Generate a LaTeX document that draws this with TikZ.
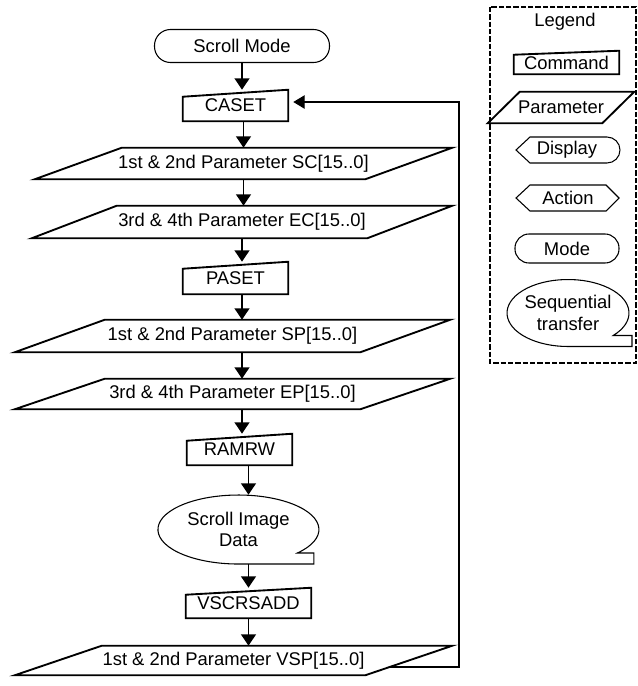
\documentclass[tikz,border=0pt]{standalone}
\usepackage{fontspec}
\setmainfont{Liberation Sans}
\usetikzlibrary{arrows.meta,calc,shapes.geometric}

\begin{document}
\begin{tikzpicture}[x=0.75pt, y=0.75pt,
    every node/.style={font=\fontsize{13.8pt}{16pt}\selectfont, inner sep=0pt},
    thinline/.style={line width=0.8pt},
    shapeline/.style={line width=1.4pt},
    modebox/.style={draw, thinline, rounded corners=12pt},
    arr/.style={line width=1.4pt, -{Triangle[width=11pt,length=8.5pt]}},
    fb/.style={line width=0.9pt, -{Triangle[width=10pt,length=8.5pt]}, shorten >=3.75pt}]
    \useasboundingbox (0,0) rectangle (637,-686);

    % Flow
    \node[modebox, minimum width=131.25pt, minimum height=24.75pt] (mode) at (242,-46) {Scroll Mode};
    \node[minimum width=78.75pt, minimum height=23.25pt] (caset) at (235.5,-105.5) {CASET};
    \node[minimum width=312.75pt, minimum height=23.25pt] (sc) at (243.5,-163.5) {1st \& 2nd Parameter SC[15..0]};
    \node[minimum width=315pt, minimum height=24pt] (ec) at (242,-222) {3rd \& 4th Parameter EC[15..0]};
    \node[minimum width=78.75pt, minimum height=24pt] (paset) at (235.5,-278) {PASET};
    \node[minimum width=326.25pt, minimum height=24pt] (sp) at (232.5,-336) {1st \& 2nd Parameter SP[15..0]};
    \node[minimum width=326.25pt, minimum height=22.5pt] (ep) at (232.5,-394) {3rd \& 4th Parameter EP[15..0]};
    \node[minimum width=78.75pt, minimum height=23.25pt] (ramrw) at (239.5,-449.5) {RAMRW};
    \node[ellipse, minimum width=120.75pt, minimum height=51.75pt, align=center] (sid) at (238.5,-529.5) {Scroll Image\\Data};
    \node[minimum width=93.75pt, minimum height=22.5pt] (vscr) at (248.5,-603) {VSCRSADD};
    \node[minimum width=327.75pt, minimum height=21.75pt] (vsp) at (233.5,-660.5) {1st \& 2nd Parameter VSP[15..0]};

    % Legend
    \draw[line width=1.1pt, dash pattern=on 4pt off 1.5pt] (490,-7) rectangle (636,-363);
    \node (legend) at (565,-22) {Legend};
    \node[minimum width=78.75pt, minimum height=17.25pt] (lcmd) at (566.5,-62.5) {Command};
    \node[minimum width=109.5pt, minimum height=23.25pt] (lpar) at (561,-107.5) {Parameter};
    \node (ldisp) at (567,-150) {Display};
    \node (lact) at (568,-198) {Action};
    \node[modebox, rounded corners=10.5pt, minimum width=78pt, minimum height=21.75pt] (lmode) at (567,-248.5) {Mode};
    \node[ellipse, minimum width=91.5pt, minimum height=50.25pt, align=center] (lseq) at (568,-313) {Sequential\\transfer};

    % Command and parameter outlines
    \foreach \n/\s in {caset/7, paset/7, ramrw/7, vscr/7, lcmd/4}
        \draw[shapeline] (\n.south west) -- ([shift={(0,-\s)}]\n.north west) -- (\n.north east) -- (\n.south east) -- cycle;
    \foreach \n/\s in {sc/87, ec/85, sp/90, ep/90, vsp/87, lpar/32}
        \draw[shapeline] (\n.south west) -- ([shift={(\s,0)}]\n.north west) -- (\n.north east) -- ([shift={(-\s,0)}]\n.south east) -- cycle;

    % Sequential transfer outlines
    \draw[thinline] ([shift={(58.9,-23.5)}]sid.center) arc[start angle=-42.9, end angle=270, x radius=80.5, y radius=34.5] -- ++(75.5,0) -- ++(0,11) -- cycle;
    \draw[thinline] ([shift={(45.2,-22.5)}]lseq.center) arc[start angle=-42.2, end angle=270, x radius=61, y radius=33.5] -- ++(64,0) -- ++(0,11) -- cycle;

    % Display and action outlines
    \draw[thinline] (516,-150) -- (530,-137) -- (607,-137) arc[start angle=90, end angle=-90, radius=13] -- (530,-163) -- cycle;
    \draw[thinline] (516,-198) -- (530,-185) -- (606,-185) -- (619,-198) -- (606,-211) -- (530,-211) -- cycle;

    % Arrows
    \draw[arr] (mode.south) -- (mode.south |- caset.north);
    \draw[arr] (caset.south -| sc.north) -- (sc.north);
    \draw[arr] (sc.south) -- (sc.south |- ec.north);
    \draw[arr] (ec.south) -- (ec.south |- paset.north);
    \draw[arr] (paset.south -| ec.south) -- (sp.north -| ec.south);
    \draw[arr] (sp.south -| ec.south) -- (ep.north -| ec.south);
    \draw[arr] (ep.south -| ec.south) -- (ramrw.north -| ec.south);
    \draw[arr] (ramrw.south -| vscr.north) -- (sid.north -| vscr.north);
    \draw[arr] (sid.south -| vscr.north) -- (vscr.north);
    \draw[arr] (vscr.south) -- (vscr.south |- vsp.north);

    % Loop back
    \coordinate (loopout) at ($(vsp.north east)!0.72!([shift={(-87,0)}]vsp.south east)$);
    \coordinate (loopup) at (459,-102);
    \draw[fb] (loopout) -| (loopup) -- (loopup -| caset.east);
\end{tikzpicture}
\end{document}
